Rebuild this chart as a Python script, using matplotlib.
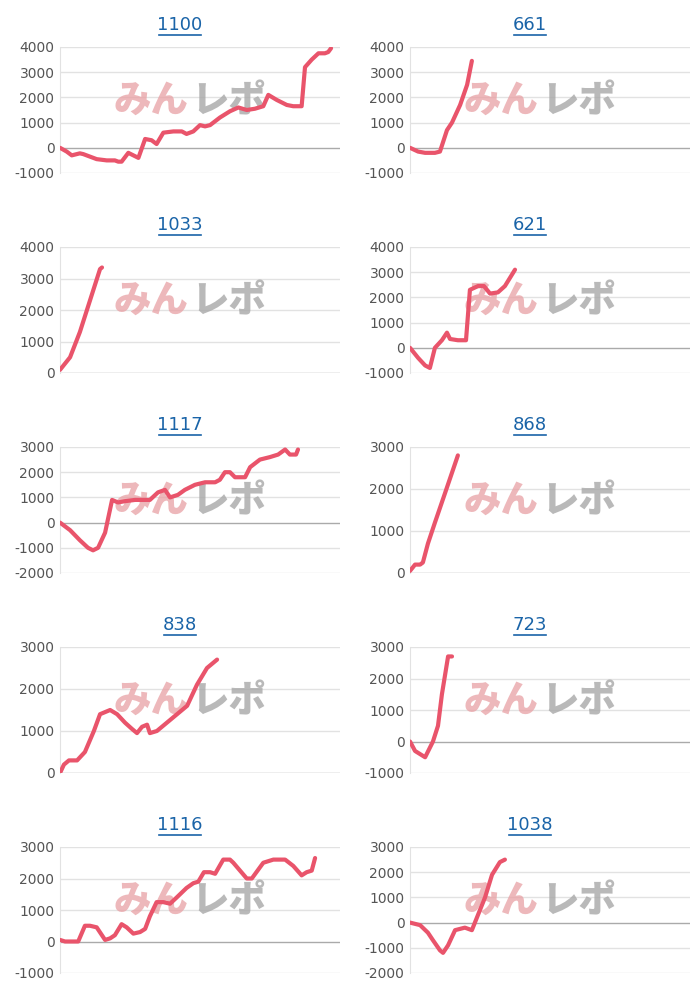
import matplotlib
matplotlib.use("Agg")
import matplotlib.pyplot as plt
from matplotlib.lines import Line2D

plt.rcParams["axes.unicode_minus"] = False

titles = ["1100", "661", "1033", "621", "1117", "868", "838", "723", "1116", "1038"]
yticks_list = [
    [-1000, 0, 1000, 2000, 3000, 4000],
    [-1000, 0, 1000, 2000, 3000, 4000],
    [0, 1000, 2000, 3000, 4000],
    [-1000, 0, 1000, 2000, 3000, 4000],
    [-2000, -1000, 0, 1000, 2000, 3000],
    [0, 1000, 2000, 3000],
    [0, 1000, 2000, 3000],
    [-1000, 0, 1000, 2000, 3000],
    [-1000, 0, 1000, 2000, 3000],
    [-2000, -1000, 0, 1000, 2000, 3000],
]

# x in % of plot width, y in values
x1100 = [0, 2.4, 4.2, 7.1, 8.3, 13.1, 16.7, 19.6, 20.8, 22.0, 24.4, 26.2, 28.0, 30.4, 32.7, 34.5, 36.9, 40.5, 43.5, 45.2, 47.6, 50.0, 51.8, 53.6, 57.1, 60.7, 63.7, 66.7, 69.6, 72.6, 74.4, 77.4, 81.0, 83.3, 86.3, 87.5, 89.9, 92.3, 94.6, 95.8, 96.8]
y1100 = [0, -150, -300, -220, -250, -450, -500, -500, -550, -550, -200, -300, -400, 350, 300, 150, 600, 650, 650, 550, 650, 900, 850, 900, 1200, 1450, 1600, 1500, 1550, 1650, 2100, 1900, 1700, 1650, 1650, 3200, 3500, 3750, 3750, 3800, 3950]
x661 = [0, 2.9, 5.4, 8.9, 10.7, 13.2, 15.0, 17.9, 20.4, 22.1]
y661 = [0, -150, -200, -200, -150, 700, 1000, 1700, 2500, 3450]
x1033 = [0, 1.8, 3.6, 7.1, 10.7, 14.3, 15.0]
y1033 = [100, 300, 500, 1300, 2300, 3300, 3350]
x621 = [0, 2.9, 5.4, 7.1, 8.9, 11.4, 13.2, 14.3, 17.1, 20.0, 21.4, 24.3, 26.4, 28.6, 31.4, 33.9, 37.5]
y621 = [0, -400, -700, -800, 0, 300, 600, 350, 300, 300, 2300, 2450, 2450, 2150, 2200, 2450, 3100]
x1117 = [0, 3.6, 7.1, 10.0, 11.8, 13.6, 16.1, 18.6, 20.7, 23.2, 26.8, 32.1, 35.0, 37.5, 39.3, 42.1, 44.6, 48.2, 51.8, 55.4, 57.1, 58.9, 60.7, 62.5, 66.1, 67.9, 71.4, 75.0, 77.9, 80.4, 82.1, 84.3, 85.0]
y1117 = [0, -300, -700, -1000, -1100, -1000, -400, 900, 800, 850, 900, 900, 1200, 1300, 1000, 1100, 1300, 1500, 1600, 1600, 1700, 2000, 2000, 1800, 1800, 2200, 2500, 2600, 2700, 2900, 2700, 2700, 2900]
x868 = [0, 1.8, 3.6, 4.6, 6.4, 8.9, 12.5, 17.1]
y868 = [50, 200, 200, 250, 700, 1200, 1900, 2800]
x838 = [0, 1.4, 3.2, 6.1, 8.9, 12.1, 14.3, 17.9, 20.4, 23.2, 25.7, 27.5, 29.3, 31.1, 32.1, 34.6, 38.2, 41.8, 45.4, 48.9, 52.5, 56.1]
y838 = [0, 200, 300, 300, 500, 1000, 1400, 1500, 1400, 1200, 1050, 950, 1100, 1150, 950, 1000, 1200, 1400, 1600, 2100, 2500, 2700]
x723 = [0, 1.8, 3.6, 5.4, 8.2, 10.0, 11.4, 13.6, 15.0]
y723 = [0, -300, -400, -500, 0, 500, 1500, 2700, 2700]
x1116 = [0, 1.8, 6.5, 8.9, 10.7, 13.1, 16.1, 17.9, 19.6, 22.0, 23.8, 26.2, 28.6, 30.4, 32.1, 34.5, 36.9, 39.3, 41.7, 45.2, 47.6, 49.4, 51.4, 53.6, 55.4, 58.3, 60.7, 61.9, 66.7, 68.5, 72.6, 76.2, 80.4, 83.3, 86.3, 88.1, 89.9, 91.1]
y1116 = [50, 0, 0, 500, 500, 450, 50, 100, 200, 550, 450, 250, 300, 400, 800, 1250, 1250, 1200, 1400, 1700, 1850, 1900, 2200, 2200, 2150, 2600, 2600, 2500, 2000, 2000, 2500, 2600, 2600, 2400, 2100, 2200, 2250, 2650]
x1038 = [0, 3.6, 6.4, 8.2, 10.7, 11.8, 13.6, 16.1, 19.6, 22.1, 23.9, 26.8, 29.3, 32.1, 33.9]
y1038 = [0, -100, -400, -700, -1100, -1200, -900, -300, -200, -300, 200, 1000, 1900, 2400, 2500]

xs = [x1100, x661, x1033, x621, x1117, x868, x838, x723, x1116, x1038]
ys = [y1100, y661, y1033, y621, y1117, y868, y838, y723, y1116, y1038]

W, H = 700, 1000
fig = plt.figure(figsize=(7, 10), dpi=100)
LINE = "#e9546b"
TITLE = "#1a64a8"
for i in range(10):
    r, c = divmod(i, 2)
    left = 60 if c == 0 else 410
    top = 47 + 200 * r
    ax = fig.add_axes([left / W, 1 - (top + 126) / H, 280 / W, 126 / H])
    yt = yticks_list[i]
    ax.set_ylim(yt[0], yt[-1])
    ax.set_xlim(0, 100)
    ax.set_yticks(yt)
    ax.set_xticks([])
    for v in yt:
        ax.axhline(v, color="#aaaaaa" if v == 0 else "#e2e2e2", lw=1, zorder=0)
    for s in ["top", "right", "bottom"]:
        ax.spines[s].set_visible(False)
    ax.spines["left"].set_color("#e2e2e2")
    ax.tick_params(axis="y", length=0, labelsize=10, labelcolor="#555555", pad=4)
    ax.set_facecolor("white")
    # watermark
    ax.text(0.19, 0.57, "みん", transform=ax.transAxes, fontsize=27, fontweight="black",
            color="#e8a0a4", alpha=0.75, family=["Noto Sans CJK JP"],
            va="center", ha="left", zorder=1)
    ax.text(0.47, 0.57, "レポ", transform=ax.transAxes, fontsize=27, fontweight="black",
            color="#a8a8a8", alpha=0.8, family=["Noto Sans CJK JP"],
            va="center", ha="left", zorder=1)
    ax.plot(xs[i], ys[i], color=LINE, lw=3, solid_capstyle="round", zorder=3)
    cx = (left + 120) / W
    ty = 1 - (25 + 200 * r) / H
    fig.text(cx, ty, titles[i], ha="center", va="center", fontsize=13, color=TITLE)
    tw = len(titles[i]) * 10.5 / W
    fig.add_artist(Line2D([cx - tw / 2, cx + tw / 2], [ty - 10 / H, ty - 10 / H],
                          color=TITLE, lw=1.2, transform=fig.transFigure))

fig.savefig("out.png", dpi=100, facecolor="white")
